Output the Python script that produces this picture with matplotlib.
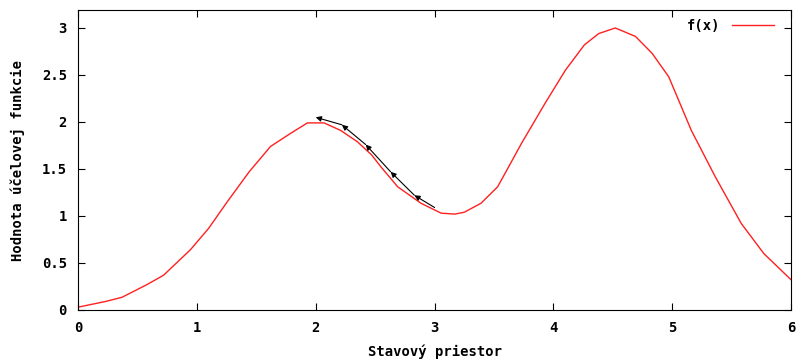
import matplotlib
matplotlib.use('Agg')
import matplotlib.pyplot as plt
import matplotlib.ticker as mticker

# curve samples
xs = [0.0, 0.23, 0.37, 0.58, 0.72, 0.82, 0.945, 1.1, 1.255, 1.44, 1.62, 1.79, 1.93,
      2.07, 2.21, 2.35, 2.47, 2.55, 2.69, 2.886, 3.055, 3.17, 3.25, 3.39, 3.53, 3.6,
      3.73, 3.93, 4.1, 4.26, 4.38, 4.52, 4.69, 4.83, 4.97, 5.08, 5.16, 5.36, 5.58,
      5.77, 6.0]
ys = [0.03, 0.09, 0.135, 0.27, 0.37, 0.49, 0.64, 0.87, 1.15, 1.47, 1.74, 1.88, 1.99,
      1.99, 1.91, 1.79, 1.65, 1.52, 1.31, 1.135, 1.03, 1.02, 1.04, 1.135, 1.31, 1.47,
      1.77, 2.2, 2.55, 2.82, 2.94, 3.0, 2.91, 2.73, 2.48, 2.15, 1.91, 1.42, 0.92,
      0.60, 0.32]

# search path (arrows)
path_x = [3.0, 2.83, 2.63, 2.42, 2.22, 2.0]
path_y = [1.09, 1.22, 1.47, 1.76, 1.97, 2.05]

xticks = [0, 1, 2, 3, 4, 5, 6]
yticks = [0, 0.5, 1, 1.5, 2, 2.5, 3]

plt.rcParams.update({
    'font.family': 'DejaVu Sans Mono',
    'font.weight': 'bold',
    'axes.labelweight': 'bold',
    'font.size': 10,
})

fig = plt.figure(figsize=(8, 3.61), dpi=100)
ax = fig.add_axes([0.0975, 0.1413, 0.8915, 0.8307])

ax.plot(xs, ys, color='#ff2020', linewidth=1.0, label='f(x)')

for i in range(len(path_x) - 1):
    ax.annotate('', xy=(path_x[i + 1], path_y[i + 1]), xytext=(path_x[i], path_y[i]),
                arrowprops=dict(arrowstyle='-|>', color='black', lw=0.8,
                                mutation_scale=8, shrinkA=0, shrinkB=0))

ax.set_xlim(0, 6)
ax.set_ylim(0, 3.19)
ax.set_xticks(xticks)
ax.set_yticks(yticks)
ax.yaxis.set_major_formatter(mticker.FuncFormatter(lambda v, p: f'{v:g}'))
ax.tick_params(direction='in', top=True, right=True, length=5, width=0.8, pad=8)

ax.set_xlabel('Stavový priestor', labelpad=7)
ax.set_ylabel('Hodnota účelovej funkcie', labelpad=12)

leg = ax.legend(loc='upper right', frameon=False, handlelength=3.0,
                markerfirst=False, borderaxespad=0, handletextpad=0.8,
                bbox_to_anchor=(0.983, 0.99))

fig.savefig('out.png', dpi=100)
